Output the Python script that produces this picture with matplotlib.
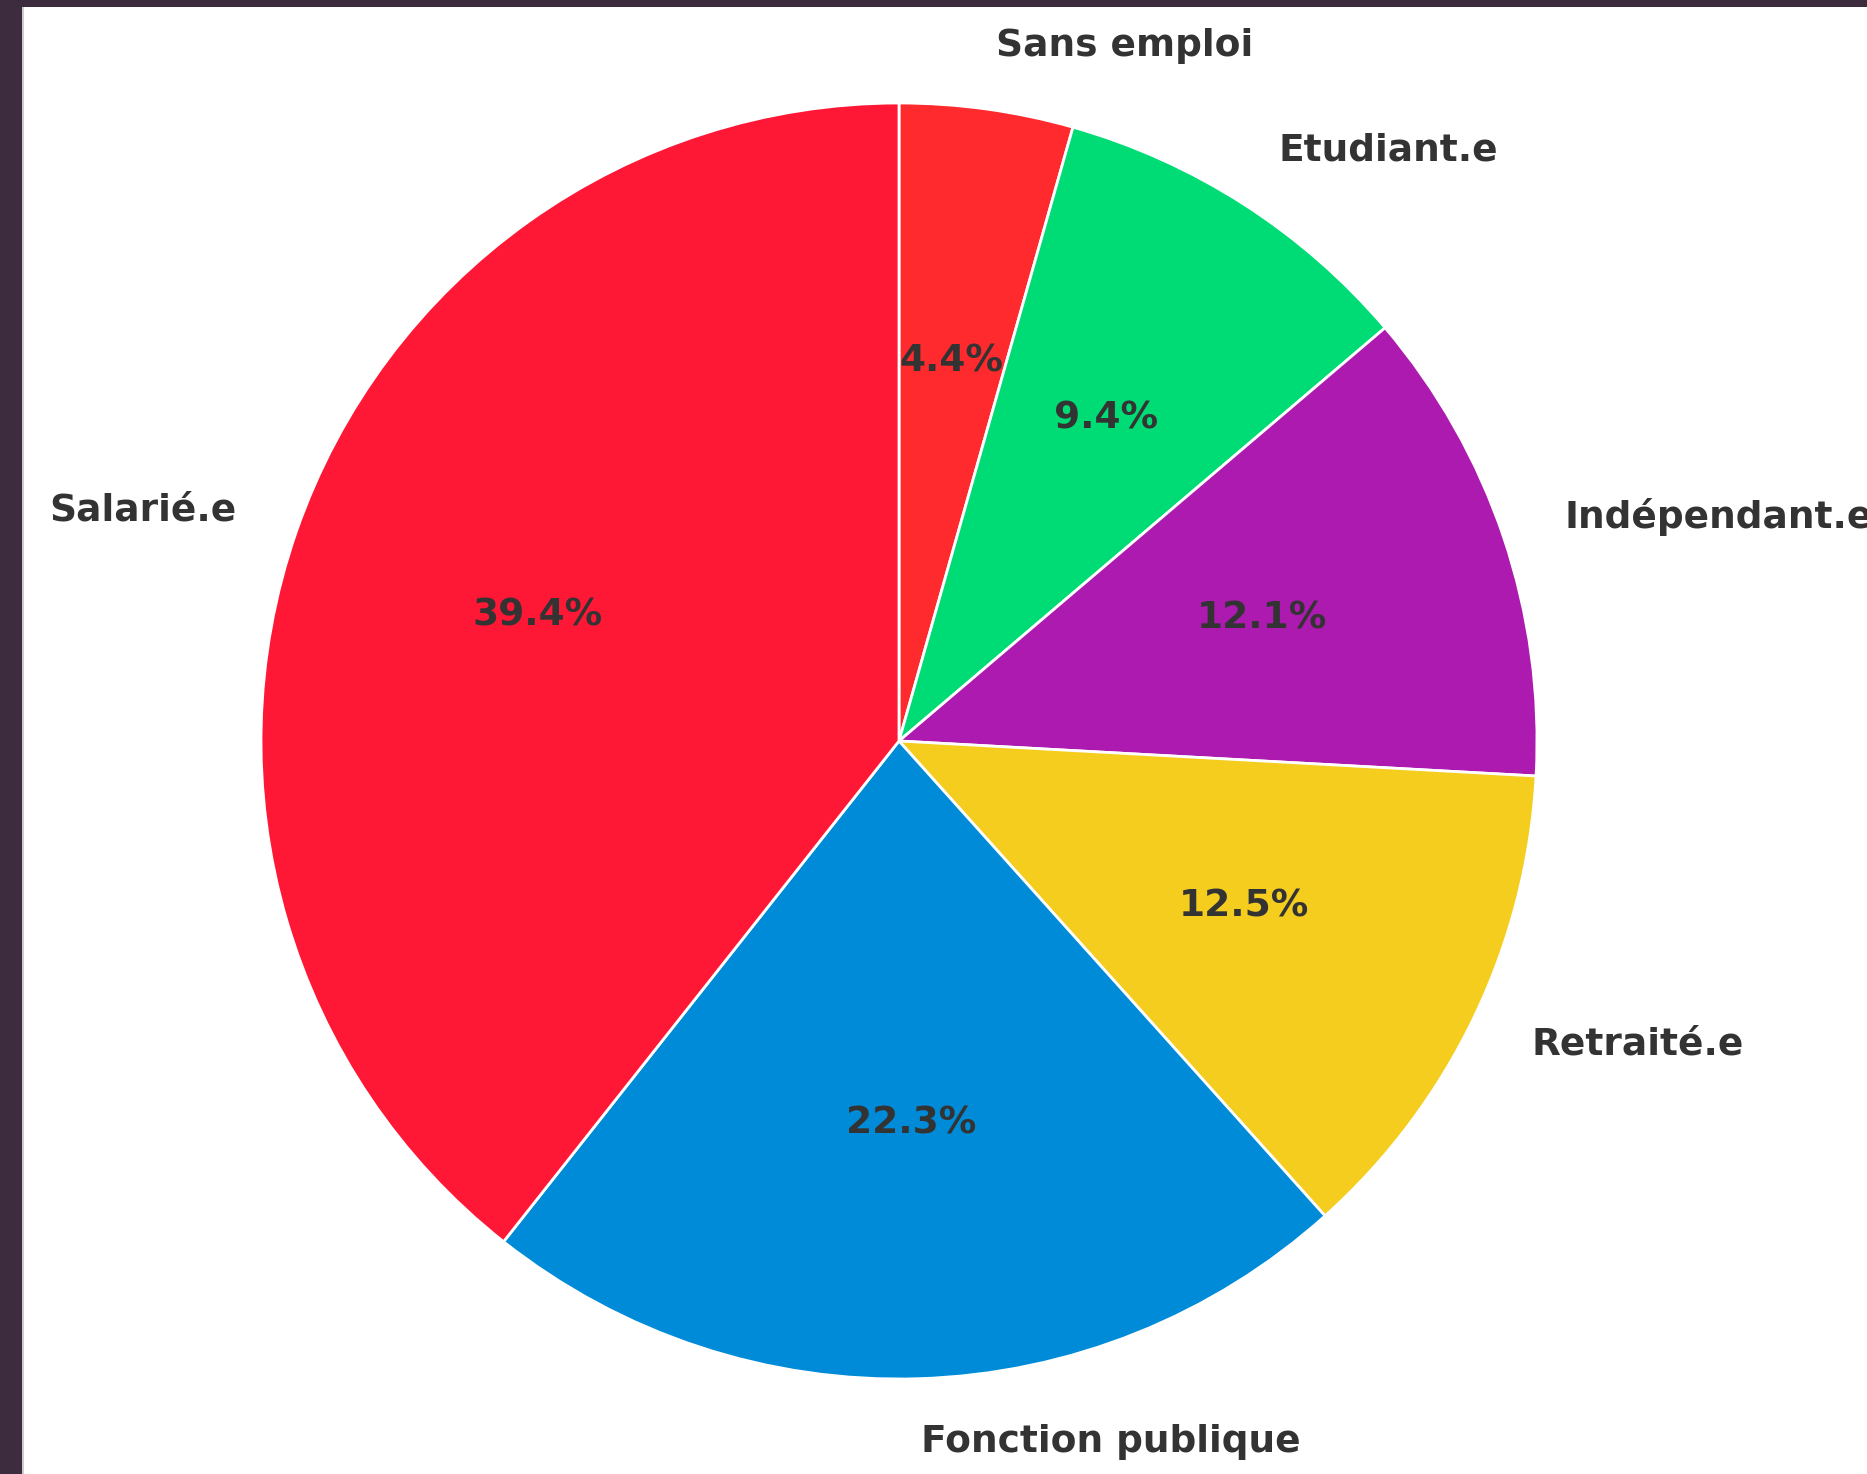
import matplotlib
matplotlib.use("Agg")
import matplotlib.pyplot as plt
from matplotlib.patches import Rectangle

categories = ["Sans emploi", "Etudiant.e", "Indépendant.e", "Retraité.e",
              "Fonction publique", "Salarié.e"]
shares = [4.4, 9.4, 12.1, 12.5, 22.3, 39.4]
colors = ["#ff2a2e", "#00dc75", "#ad1ab0", "#f4cd1f", "#008bd8", "#ff1836"]

W, H, DPI = 1867, 1474, 100
fig = plt.figure(figsize=(W / DPI, H / DPI), dpi=DPI, facecolor="white")
ax = fig.add_axes([0, 0, 1, 1])

wedges, texts, autotexts = ax.pie(
    shares, labels=categories, colors=colors, startangle=90, counterclock=False,
    autopct="%1.1f%%", pctdistance=0.6, labeldistance=1.1,
    wedgeprops=dict(edgecolor="white", linewidth=2),
    textprops=dict(fontsize=27, fontweight="bold", color="#333333"),
)

# place pie: center at (899, 741) px, radius 638 px
cx, cy, r = 899, 741, 638
ax.set_xlim(-cx / r, (W - cx) / r)
ax.set_ylim(-(H - cy) / r, cy / r)
ax.set_aspect("auto")
ax.axis("off")

# dark screenshot border (top and left)
border = "#3c2c3e"
fig.add_artist(Rectangle((0, 1 - 7 / H), 1, 7 / H, transform=fig.transFigure,
                         facecolor=border, edgecolor="none", zorder=10))
fig.add_artist(Rectangle((0, 0), 22 / W, 1, transform=fig.transFigure,
                         facecolor=border, edgecolor="none", zorder=10))
fig.add_artist(Rectangle((22 / W, 0), 1.5 / W, 1 - 7 / H, transform=fig.transFigure,
                         facecolor="#cccccc", edgecolor="none", zorder=10))

fig.savefig("out.png", dpi=DPI, facecolor="white")
